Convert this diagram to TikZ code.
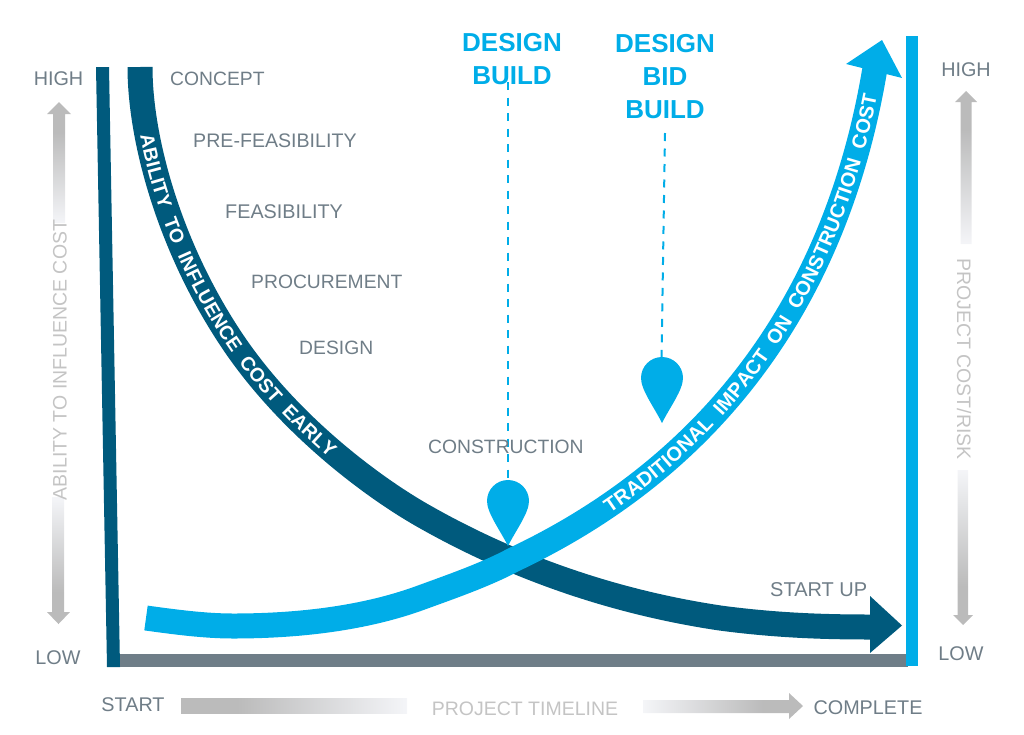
\documentclass[tikz,border=0pt]{standalone}
\usepackage{fontspec}
\setmainfont{Liberation Sans}
\usetikzlibrary{decorations.text}
\definecolor{darkblue}{HTML}{005A7D}
\definecolor{skyblue}{HTML}{00ADE8}
\definecolor{axisgray}{HTML}{6F7E88}
\definecolor{labelgray}{HTML}{6F7D87}
\definecolor{fadegray}{HTML}{C4C4C4}
\definecolor{barA}{HTML}{BBBBBB}
\definecolor{barB}{HTML}{F4F5F8}
\pgfdeclareverticalshading{fadearrow}{100bp}{color(0bp)=(barB); color(25bp)=(barB); color(62.5bp)=(barA); color(100bp)=(barA)}
\tikzset{
  stage/.style={text=labelgray,font=\fontsize{19.3}{20}\selectfont,inner sep=0pt},
  scalelabel/.style={text=labelgray,font=\fontsize{19.8}{20}\selectfont,inner sep=0pt},
  fadelabel/.style={text=fadegray,font=\fontsize{19.5}{20}\selectfont,inner sep=0pt},
  headline/.style={text=skyblue,font=\bfseries\fontsize{26}{33}\selectfont,align=center,inner sep=0pt},
  dashline/.style={draw=skyblue,line width=2pt,dash pattern=on 8pt off 7.5pt},
  band/.style={line width=25pt,line cap=butt},
  pin/.style={fill=skyblue,draw=none},
  fadeshape/.style={shading=fadearrow,shading angle=#1},
}
\def\darkcurve{(140,67) .. controls (140,140) and (170,250) .. (235,345) .. controls (290,425) and (370,485) .. (420,514) .. controls (500,560) and (600,600) .. (720,618) .. controls (780,626) and (830,627) .. (872,627)}
\def\bluecurve{(146,618) .. controls (175,622) and (205,626) .. (233,626) .. controls (300,626) and (365,618) .. (420,598) .. controls (450,587) and (485,575) .. (513,560) .. controls (640,500) and (825,370) .. (875,68)}
\begin{document}
\begin{tikzpicture}[x=1pt,y=-1pt]
\useasboundingbox (0,0) rectangle (1024,734);
% axes
\fill[axisgray] (115,654) rectangle (908,667);
\fill[darkblue] (96,67) -- (109,67) -- (120,667) -- (107,667) -- cycle;
\fill[skyblue] (906,36) rectangle (918,666);
% dark curve
\draw[band,draw=darkblue] \darkcurve;
\fill[darkblue] (870,596) -- (902,625.5) -- (870,653) -- cycle;
\path[decorate,decoration={text along path,raise=-7pt,text align={left indent=68pt},
  text={|\bfseries\fontsize{19.4}{19.4}\selectfont\color{white}|ABILITY{\ }{\ }TO{\ }{\ }INFLUENCE{\ }{\ }COST{\ }{\ }EARLY}}] \darkcurve;
% blue curve
\draw[band,draw=skyblue] \bluecurve;
\fill[skyblue] (846,64) -- (882,40) -- (902,78) -- cycle;
\path[decorate,decoration={text along path,raise=-7pt,text align={left indent=485pt},
  text={|\bfseries\fontsize{20}{20}\selectfont\color{white}|TRADITIONAL{\ }{\ }IMPACT{\ }{\ }ON{\ }{\ }CONSTRUCTION{\ }{\ }COST}}] \bluecurve;
% pins and dashed leaders
\coordinate (pinA) at (508,481);
\coordinate (pinB) at (661.5,358);
\coordinate (startA) at (508,82);
\coordinate (startB) at (665,133);
\draw[dashline] (startA) -- (pinA);
\draw[dashline] (startB) -- (pinB);
\fill[pin] (508,546) .. controls (500,530) and (487,513) .. (487,501) arc[start angle=180,end angle=360,radius=21] .. controls (529,513) and (516,530) .. (508,546) -- cycle;
\fill[pin] (662,423) .. controls (654,407) and (641,390) .. (641,378) arc[start angle=180,end angle=360,radius=21] .. controls (683,390) and (670,407) .. (662,423) -- cycle;
\node[headline] (db) at (512,59.5) {DESIGN\\BUILD};
\node[headline] (dbb) at (665,77) {DESIGN\\BID\\BUILD};
% stage labels
\node[stage,anchor=west] (s1) at (170,79) {CONCEPT};
\node[stage,anchor=west,font=\fontsize{19.6}{20}\selectfont] (s2) at (193,141) {PRE-FEASIBILITY};
\node[stage,anchor=west,font=\fontsize{19.8}{20}\selectfont] (s3) at (225,212) {FEASIBILITY};
\node[stage,anchor=west] (s4) at (251,282) {PROCUREMENT};
\node[stage,anchor=west] (s5) at (299,348) {DESIGN};
\node[stage,anchor=west] (s6) at (428,447) {CONSTRUCTION};
\node[stage,anchor=west,font=\fontsize{20}{20}\selectfont] (s7) at (770,590) {START UP};
% gradient arrows
\shade[fadeshape=0] (59,102) -- (71,114) -- (65,114) -- (65,223) -- (53,223) -- (53,114) -- (47,114) -- cycle;
\shade[fadeshape=180] (52,497) -- (64,497) -- (64,612) -- (70,612) -- (58.5,624) -- (47,612) -- (52,612) -- cycle;
\shade[fadeshape=0] (966,91) -- (977,102) -- (971.5,102) -- (971.5,244) -- (960.5,244) -- (960.5,102) -- (955,102) -- cycle;
\shade[fadeshape=180] (957.5,470) -- (968,470) -- (968,615) -- (973,615) -- (963,625) -- (953,615) -- (957.5,615) -- cycle;
\shade[fadeshape=90] (181,698) rectangle (407,713);
\shade[fadeshape=270] (643,700) -- (789,700) -- (789,693) -- (803,706) -- (789,719) -- (789,713) -- (643,713) -- cycle;
% scale labels
\node[scalelabel] (hl) at (58.5,79) {HIGH};
\node[scalelabel] (ll) at (58,658) {LOW};
\node[scalelabel] (hr) at (966,70) {HIGH};
\node[scalelabel] (lr) at (961,654) {LOW};
\node[scalelabel] (st) at (133,705) {START};
\node[scalelabel] (cp) at (868,708) {COMPLETE};
\node[fadelabel,rotate=90] (al) at (60,360) {ABILITY TO INFLUENCE COST};
\node[fadelabel,rotate=-90] (ar) at (964,359) {PROJECT COST/RISK};
\node[fadelabel] (pt) at (525,709) {PROJECT TIMELINE};
\end{tikzpicture}
\end{document}
